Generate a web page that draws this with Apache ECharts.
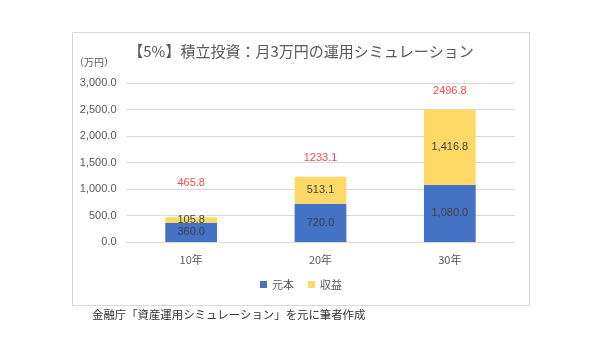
<!DOCTYPE html>
<html>
<head>
<meta charset="utf-8">
<script src="https://cdn.jsdelivr.net/npm/echarts@6/dist/echarts.min.js"></script>
<style>
html,body{margin:0;padding:0;background:#fff;}
#chart{width:602px;height:339px;}
</style>
</head>
<body>
<div id="chart"></div>
<script>
// 積立投資シミュレーション（年率5%、月3万円）
var categories = ['10年', '20年', '30年'];
var principal = [360.0, 720.0, 1080.0];
var gain = [105.8, 513.1, 1416.8];
var totals = [465.8, 1233.1, 2496.8];
var yTicks = { min: 0, max: 3000, interval: 500 };

var FONT = '"Noto Sans CJK JP", "Noto Sans", sans-serif';
var NUM_FONT = '"Liberation Sans", sans-serif';
var fmt = function (v) {
  return Number(v).toLocaleString('en-US', { minimumFractionDigits: 1, maximumFractionDigits: 1 });
};

var chart = echarts.init(document.getElementById('chart'), null, { renderer: 'canvas' });
chart.setOption({
  animation: false,
  backgroundColor: '#ffffff',
  textStyle: { fontFamily: FONT },
  graphic: [
    { type: 'rect', shape: { x: 72.5, y: 32.5, width: 457, height: 273 },
      style: { fill: 'none', stroke: '#d9d9d9', lineWidth: 1 }, z: -1 },
    { type: 'text', left: 'center', top: 44,
      style: { text: '【5%】積立投資：月3万円の運用シミュレーション', fill: '#595959',
               font: '15px ' + FONT } },
    { type: 'text', left: 74, top: 57,
      style: { text: '（万円）', fill: '#595959', font: '10px ' + FONT } },
    { type: 'text', left: 92, top: 309,
      style: { text: '金融庁「資産運用シミュレーション」を元に筆者作成', fill: '#333333',
               font: '11.4px ' + FONT } }
  ],
  legend: {
    bottom: 44, left: 'center',
    itemWidth: 7, itemHeight: 7, itemGap: 14,
    icon: 'rect',
    data: ['元本', '収益'],
    textStyle: { color: '#595959', fontSize: 11, fontFamily: FONT }
  },
  grid: { left: 126.5, right: 87.5, top: 83, bottom: 97, containLabel: false },
  xAxis: {
    type: 'category',
    data: categories,
    axisLine: { lineStyle: { color: '#d9d9d9' } },
    axisTick: { show: false },
    axisLabel: { color: '#595959', fontSize: 11, margin: 12, fontFamily: FONT }
  },
  yAxis: {
    type: 'value',
    min: yTicks.min, max: yTicks.max, interval: yTicks.interval,
    axisLine: { show: false },
    axisTick: { show: false },
    splitLine: { lineStyle: { color: '#d9d9d9' } },
    axisLabel: { color: '#595959', fontSize: 11, margin: 10, formatter: fmt, fontFamily: NUM_FONT }
  },
  series: [
    {
      name: '元本', type: 'bar', stack: 'total', barWidth: '40%',
      data: principal,
      itemStyle: { color: '#4472c4' },
      label: { show: true, position: 'inside', color: '#404040', fontSize: 11,
               fontFamily: NUM_FONT, formatter: function (p) { return fmt(p.value); } }
    },
    {
      name: '収益', type: 'bar', stack: 'total', barWidth: '40%',
      data: gain,
      itemStyle: { color: '#ffd966' },
      label: { show: true, position: 'inside', color: '#404040', fontSize: 11,
               fontFamily: NUM_FONT, formatter: function (p) { return fmt(p.value); } }
    },
    {
      // 合計値のラベル（線と点は表示しない）
      name: '合計', type: 'line',
      data: totals.map(function (v, i) {
        return { value: v, label: { distance: i === 0 ? 28 : 13 } };
      }),
      symbol: 'circle', symbolSize: 1, showSymbol: true,
      itemStyle: { color: 'rgba(0,0,0,0)' },
      lineStyle: { width: 0, opacity: 0 },
      label: { show: true, position: 'top', color: '#ff4b4b', fontSize: 11,
               fontFamily: NUM_FONT,
               formatter: function (p) { return p.value.toFixed(1); } },
      silent: true
    }
  ]
});
</script>
</body>
</html>
